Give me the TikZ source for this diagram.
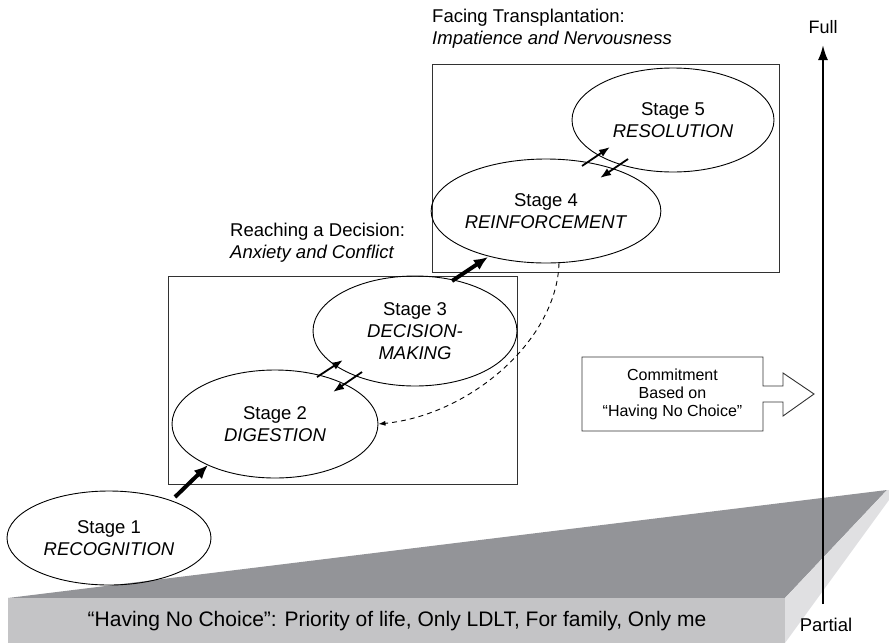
\documentclass[tikz,border=0pt]{standalone}
\usepackage{fontspec}
\setmainfont{Liberation Sans}
\usetikzlibrary{shapes.geometric,arrows.meta}
\definecolor{topface}{RGB}{147,148,152}
\definecolor{frontface}{RGB}{196,196,198}
\definecolor{sideface}{RGB}{224,224,226}
\definecolor{framecol}{RGB}{50,50,50}
\begin{document}
\begin{tikzpicture}[x=1pt,y=-1pt,
  stage/.style={ellipse, draw=black, line width=0.9pt, inner sep=0pt, align=center,
                font=\fontsize{18.5}{22}\selectfont},
  frame/.style={draw=framecol, line width=0.9pt, inner sep=0pt},
  lbl/.style={anchor=west, align=left, inner sep=0pt, font=\fontsize{18.5}{22}\selectfont},
  bigarrow/.style={line width=4pt, -{Latex[length=14pt,width=12pt]}},
  smallarrow/.style={line width=1.8pt, -{Latex[length=11pt,width=8pt]}},
]
\useasboundingbox (0,0) rectangle (889,643);

% platform
\fill[topface] (8,598) -- (887,490) -- (785,598) -- cycle;
\fill[frontface] (8,598) rectangle (785,643);
\fill[sideface] (785,598) -- (887,490) -- (889,490) -- (889,500) -- (785,643) -- cycle;
\node[font=\fontsize{21}{24}\selectfont] (base) at (397,621)
  {“Having No Choice”: Priority of life, Only LDLT, For family, Only me};

% boxes
\node[frame, minimum width=349pt, minimum height=208pt] (boxA) at (342.5,380) {};
\node[frame, minimum width=347pt, minimum height=208pt] (boxB) at (605.5,168) {};

\node[lbl] (labA) at (230,243) {Reaching a Decision:\\\textit{Anxiety and Conflict}};
\node[lbl] (labB) at (432,29) {Facing Transplantation:\\\textit{Impatience and Nervousness}};

% stages
\node[stage, minimum width=204pt, minimum height=94pt] (s1) at (109,538) {Stage 1\\\textit{RECOGNITION}};
\node[stage, minimum width=206pt, minimum height=108pt] (s2) at (275,424) {Stage 2\\\textit{DIGESTION}};
\node[stage, minimum width=204pt, minimum height=110pt] (s3) at (415,331) {Stage 3\\\textit{DECISION-}\\\textit{MAKING}};
\node[stage, minimum width=222pt, minimum height=104pt] (s4) at (546,211) {Stage 4\\\textit{REINFORCEMENT}};
\node[stage, minimum width=202pt, minimum height=104pt] (s5) at (673,120) {Stage 5\\\textit{RESOLUTION}};

% arrows between stages
\coordinate (a1s) at (175,497); \coordinate (a1e) at (208,465);
\draw[bigarrow] (a1s) -- (a1e);
\coordinate (a3s) at (452,281); \coordinate (a3e) at (488,257);
\draw[bigarrow] (a3s) -- (a3e);

\coordinate (b1s) at (317,377); \coordinate (b1e) at (343,360);
\coordinate (b2s) at (362,372); \coordinate (b2e) at (333,392);
\draw[smallarrow] (b1s) -- (b1e);
\draw[smallarrow] (b2s) -- (b2e);

\coordinate (c1s) at (582,166); \coordinate (c1e) at (610,147);
\coordinate (c2s) at (628,159); \coordinate (c2e) at (600,178);
\draw[smallarrow] (c1s) -- (c1e);
\draw[smallarrow] (c2s) -- (c2e);

% dashed feedback
\draw[line width=0.9pt, dash pattern=on 5pt off 4pt, -{Latex[length=7pt,width=5pt]}]
  (s4.-76) .. controls (557,340) and (470,415) .. (s2.east);

% commitment arrow
\draw[frame] (582,357) -- (763,357) -- (763,386) -- (783,386) -- (783,373) -- (814,394)
  -- (783,416) -- (783,402) -- (763,402) -- (763,431) -- (582,431) -- cycle;
\node[align=center, inner sep=0pt, font=\fontsize{16}{18}\selectfont] (commit) at (672.5,394)
  {Commitment\\Based on\\“Having No Choice”};

% axis
\coordinate (axb) at (823,604); \coordinate (axt) at (823,45);
\draw[line width=2pt, -{Latex[length=15pt,width=10pt]}] (axb) -- (axt);
\node[font=\fontsize{18}{22}\selectfont] (full) at (823,27) {Full};
\node[font=\fontsize{18.5}{22}\selectfont] (partial) at (826,625) {Partial};
\end{tikzpicture}
\end{document}
